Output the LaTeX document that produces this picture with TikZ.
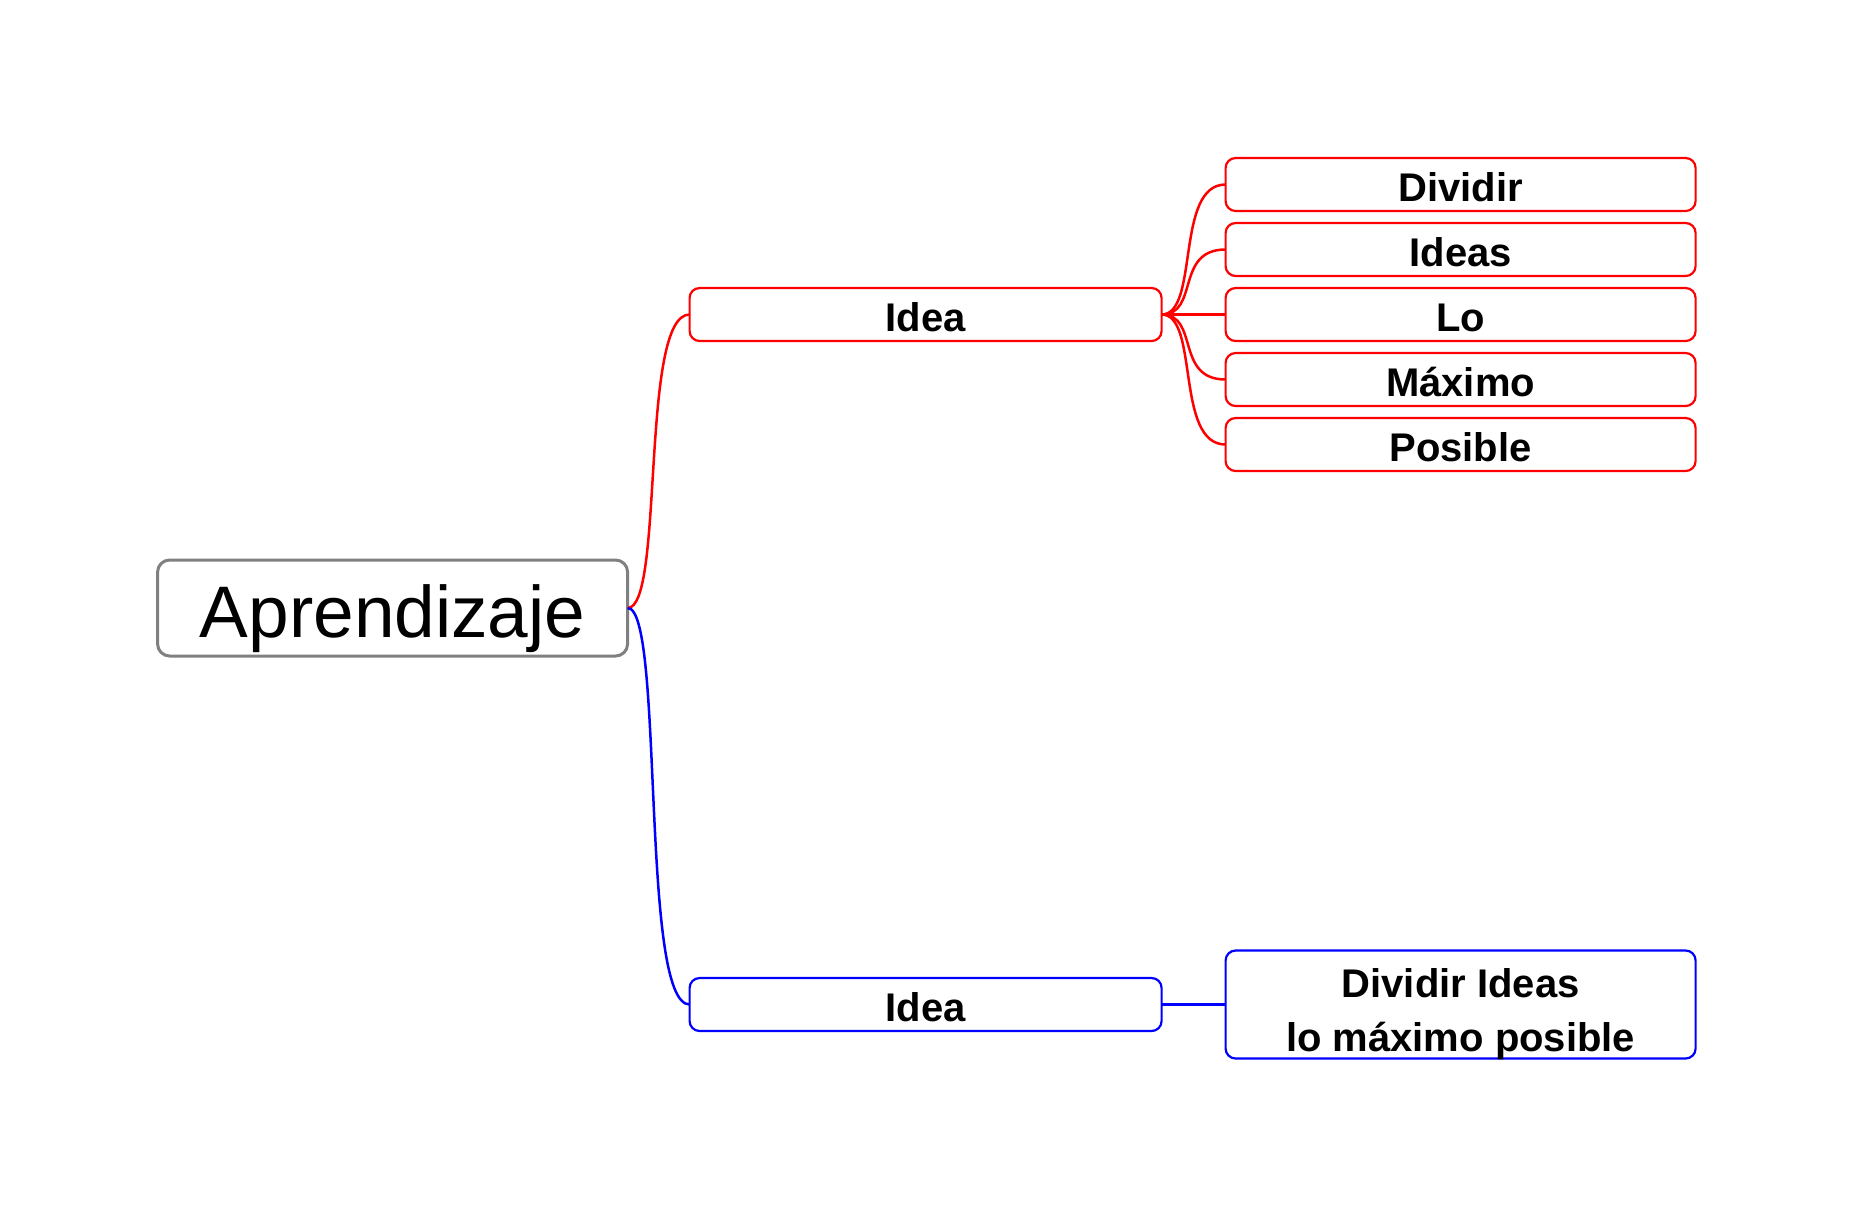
\documentclass[tikz,border=0pt]{standalone}
\usepackage{fontspec}
\setmainfont{Liberation Sans}
\usetikzlibrary{positioning}

\begin{document}
\begin{tikzpicture}[auto,node distance=12pt]
	\tikzstyle{topic}=[draw, rounded corners=10pt, line width=2.2pt, inner sep=0pt, outer sep=0pt, minimum width=470pt, minimum height=53pt, text height=34pt, text depth=0pt, font=\fontsize{40pt}{54pt}\selectfont\bfseries, align=center]
	\tikzstyle{conn}=[line width=2.5pt]
	\useasboundingbox (0,0) rectangle (1857pt,-1219pt);
		\node[draw=gray, rounded corners=12pt, line width=3pt, inner sep=0pt, outer sep=0pt, minimum width=470pt, minimum height=96pt, text height=58pt, text depth=0pt, font=\fontsize{73pt}{80pt}\selectfont] (root) at (392.6pt,-608pt) {Aprendizaje};
		\node[topic, red, text=black, minimum width=472pt] (idea1) [above right=219pt and 62pt of root] {Idea};
		\node[topic, blue, text=black, minimum width=472pt] (idea2) [below right=322pt and 62pt of root] {Idea};
		\node[topic, red, text=black] (lo) [right=64pt of idea1] {Lo};
		\node[topic, red, text=black] (ideas) [above=of lo] {Ideas};
		\node[topic, red, text=black] (dividir) [above=of ideas] {Dividir};
		\node[topic, red, text=black] (maximo) [below=of lo] {Máximo};
		\node[topic, red, text=black] (posible) [below=of maximo] {Posible};
		\node[topic, blue, text=black, minimum height=108pt, text height=0pt] (frase) [right=64pt of idea2] {\raisebox{-47pt}[0pt][0pt]{\parbox[b]{470pt}{\centering Dividir Ideas\\lo máximo posible}}};
			\draw[conn, red] (root.east) .. controls +(37pt,0) and +(-50pt,0) .. (idea1.west);
			\draw[conn, blue] (root.east) .. controls +(37pt,0) and +(-50pt,0) .. (idea2.west);
			\draw[conn, red] (idea1.east) .. controls +(38pt,0) and +(-51pt,0) .. (dividir.west);
			\draw[conn, red] (idea1.east) .. controls +(38pt,0) and +(-51pt,0) .. (ideas.west);
			\draw[conn, red] (idea1.east) -- (lo.west);
			\draw[conn, red] (idea1.east) .. controls +(38pt,0) and +(-51pt,0) .. (maximo.west);
			\draw[conn, red] (idea1.east) .. controls +(38pt,0) and +(-51pt,0) .. (posible.west);
			\draw[conn, blue] (idea2.east) -- (frase.west);
\end{tikzpicture}
\end{document}
